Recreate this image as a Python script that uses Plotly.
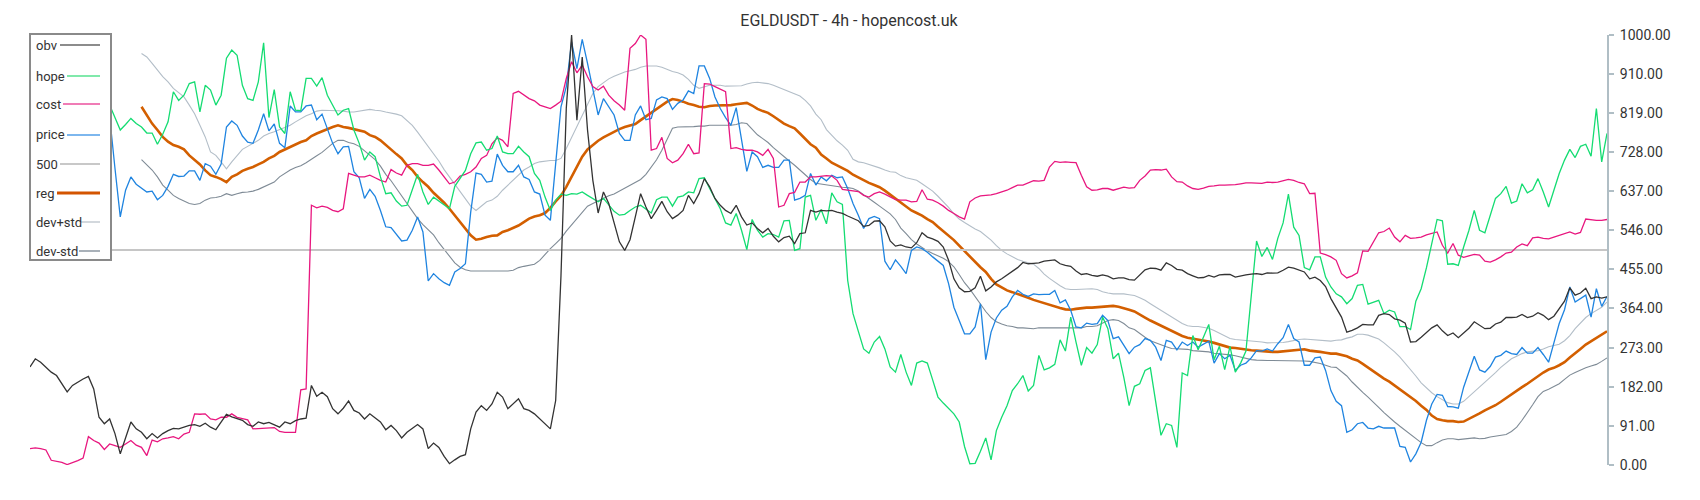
import plotly.graph_objects as go

N = 298
idx = list(range(N))

obv = [228, 247, 239, 228, 216, 208, 189, 170, 185, 193, 200, 206, 177, 111, 96, 107, 73, 26, 61, 100,
       84, 76, 61, 73, 63, 73, 80, 85, 84, 88, 92, 94, 90, 97, 88, 82, 100, 118, 112, 108,
       104, 94, 90, 100, 96, 99, 93, 88, 100, 96,
       103, 107, 109, 185, 160, 169, 159, 131, 119, 132, 149, 127, 121, 107, 119, 110, 100, 82, 92, 80,
       63, 76, 86, 94, 84, 38, 51, 41, 20, 3, 12, 20, 24, 84, 123, 138, 127, 142, 169, 158,
       131, 142, 154, 131, 127, 119, 107, 94, 84,
       150, 440, 830, 1000, 802, 949, 779, 662, 586, 635, 608, 565, 519, 499, 524, 577, 631, 600, 573, 592,
       613, 589, 573, 581, 592, 627, 608, 631, 666, 647, 620, 604, 592, 585, 604, 577, 558, 563, 550, 540,
       550, 532, 519, 529, 532, 515, 538, 540, 592,
       588, 592, 591, 592, 588, 585, 579, 573, 568, 555, 557, 567, 568, 554, 521, 509, 512, 507, 505, 517,
       540, 530, 526, 520, 507, 476, 433, 412, 403, 404, 412, 439, 405, 414, 426, 433, 441, 449, 459, 471,
       468, 469, 470, 474, 476, 477, 468, 464, 462,
       451, 443, 445, 441, 439, 442, 439, 433, 435, 435, 431, 430, 441, 454, 458, 457, 453, 470, 464, 455,
       453, 445, 440, 435, 436, 441, 437, 442, 443, 443, 437, 440, 442, 444, 445, 443, 447, 446, 447, 453,
       460, 458, 454, 449, 433, 437, 429, 415, 387,
       367, 344, 309, 313, 319, 327, 326, 326, 348, 352, 350, 340, 337, 330, 286, 287, 297, 309, 319, 326,
       312, 301, 307, 296, 307, 318, 333, 326, 317, 318, 328, 332, 343, 343, 344, 350, 343, 346, 354, 348,
       338, 346, 363, 381, 412, 395, 400, 411, 387, 391, 388, 391]

hope = [840, 830, 820, 800, 790, 800, 810, 805, 800, 790, 795, 780, 800, 820, 840,
        837, 806, 779, 792, 806, 794, 786, 772, 772, 746, 769, 798, 868, 848, 860, 887, 891, 821, 883, 872,
        837, 860, 946, 965, 953, 883, 852, 848, 891, 982, 808, 873, 786, 771, 868,
        825, 824, 899, 899, 881, 901, 860, 837, 814, 825, 829, 779, 748, 709, 728, 717, 670, 631, 633, 614,
        602, 604, 639, 676, 635, 606, 623, 614, 604, 596, 648, 666, 685, 724, 749, 751, 732, 736, 765, 728,
        724, 724, 741, 728, 717, 678, 662, 623, 592,
        616, 630, 627, 631, 630, 635, 627, 620, 612, 620, 604, 590, 581, 583, 592, 600, 604, 596, 586, 617,
        623, 623, 602, 623, 626, 635, 633, 666, 668, 643, 620, 596, 563, 558, 585, 546, 501, 571, 546, 530,
        538, 536, 530, 568, 569, 499, 503, 623, 627,
        569, 594, 561, 633, 612, 606, 429, 352, 313, 270, 260, 286, 299, 270, 228, 216, 257, 216, 185, 237,
        242, 237, 198, 158, 144, 131, 119, 100, 43, 3, 4, 32, 63, 12, 80, 111, 138, 173, 189, 208,
        172, 185, 255, 221, 226, 234, 291, 265, 344,
        286, 232, 273, 260, 280, 344, 317, 247, 260, 204, 138, 183, 189, 220, 226, 142, 69, 96, 92, 41,
        214, 208, 301, 268, 298, 327, 245, 276, 222, 276, 216, 237, 265, 391, 521, 485, 506, 478, 527, 563,
        630, 553, 534, 459, 454, 484, 484, 437, 414,
        398, 391, 375, 387, 418, 420, 374, 379, 383, 352, 360, 356, 322, 322, 315, 381, 410, 459, 515, 571,
        568, 467, 468, 464, 507, 546, 592, 546, 540, 581, 620, 631, 648, 609, 614, 654, 633, 640, 666, 635,
        600, 639, 678, 709, 734, 715, 741, 746, 718, 829, 705, 771]

cost = [38, 40, 38, 35, 11, 8, 6, 1, 5, 10, 16, 66, 57, 51, 36, 49, 45, 41, 49, 57,
        46, 41, 22, 58, 54, 61, 63, 66, 61, 72, 76, 119, 118, 119, 107, 105, 111, 111, 119, 111,
        108, 105, 84, 85, 86, 86, 87, 78, 76, 76,
        76, 175, 177, 604, 598, 602, 599, 592, 589, 596, 678, 674, 670, 670, 674, 668, 662, 658, 687, 679,
        674, 697, 701, 701, 697, 697, 700, 686, 670, 654, 658, 672, 676, 682, 693, 713, 720, 747, 761, 755,
        740, 864, 869, 860, 852, 847, 837, 833, 829,
        837, 846, 899, 938, 912, 930, 903, 880, 872, 881, 860, 847, 837, 825, 969, 980, 1000, 990, 732, 736,
        762, 713, 703, 709, 724, 746, 724, 726, 887, 886, 880, 873, 868, 736, 738, 734, 732, 732, 728, 720,
        734, 713, 600, 604, 631, 634, 658, 658, 670,
        670, 672, 673, 672, 662, 641, 639, 637, 636, 627, 623, 631, 635, 630, 623, 617, 616, 616, 612, 613,
        640, 618, 616, 610, 602, 592, 585, 577, 572, 612, 621, 626, 627, 628, 631, 635, 639, 645, 651, 651,
        656, 661, 660, 662, 693, 706, 704, 705, 704,
        703, 674, 647, 639, 640, 643, 643, 639, 642, 646, 644, 645, 662, 672, 686, 687, 686, 688, 670, 659,
        658, 649, 643, 641, 644, 648, 649, 651, 651, 651, 652, 654, 656, 656, 656, 655, 658, 657, 658, 661,
        664, 662, 657, 654, 631, 632, 493, 489, 484,
        476, 445, 435, 440, 447, 498, 497, 518, 540, 543, 551, 530, 519, 534, 527, 528, 530, 535, 539, 542,
        511, 493, 515, 488, 483, 487, 490, 488, 474, 472, 477, 484, 493, 495, 507, 514, 510, 528, 530, 527,
        526, 530, 534, 539, 542, 537, 541, 572, 570, 569, 569, 571]

price = [840, 820, 800, 790, 780, 770, 775, 760, 770, 780, 790, 800, 790, 805, 810,
         810, 690, 577, 639, 670, 653, 643, 635, 637, 617, 627, 648, 676, 671, 672, 684, 684, 662, 701, 695,
         676, 700, 786, 800, 790, 765, 751, 748, 779, 817, 777, 793, 748, 738, 835,
         821, 821, 835, 837, 803, 816, 780, 748, 724, 740, 741, 682, 668, 620, 641, 625, 592, 554, 552, 537,
         521, 523, 546, 577, 542, 428, 445, 433, 424, 418, 449, 457, 468, 588, 679, 676, 658, 660, 723, 697,
         682, 682, 697, 670, 664, 635, 630, 581, 569,
         701, 833, 880, 984, 922, 990, 934, 872, 814, 852, 833, 814, 771, 755, 755, 814, 835, 803, 806, 849,
         856, 852, 827, 841, 849, 870, 864, 928, 928, 899, 856, 829, 808, 790, 831, 759, 683, 728, 717, 692,
         697, 692, 692, 709, 709, 616, 620, 627, 678,
         651, 670, 661, 674, 668, 670, 643, 608, 581, 550, 573, 578, 573, 474, 454, 477, 462, 445, 499, 507,
         503, 495, 484, 474, 464, 422, 367, 336, 305, 305, 321, 375, 245, 309, 342, 360, 369, 391, 406, 397,
         392, 398, 396, 397, 397, 406, 377, 384, 360,
         321, 319, 330, 327, 329, 348, 336, 294, 298, 278, 259, 274, 280, 294, 290, 274, 243, 290, 286, 268,
         286, 278, 286, 274, 282, 288, 237, 259, 247, 255, 220, 232, 237, 249, 266, 265, 270, 265, 282, 296,
         327, 294, 286, 232, 232, 249, 251, 220, 173,
         148, 138, 76, 82, 96, 99, 86, 84, 90, 86, 86, 86, 43, 41, 7, 26, 53, 104, 142, 164,
         162, 136, 135, 132, 181, 216, 253, 221, 216, 229, 251, 255, 265, 259, 257, 273, 260, 260, 273, 257,
         239, 284, 329, 361, 414, 379, 387, 395, 344, 410, 369, 392]

level_500 = [500] * N

reg = [None] * 21 + [
    833, 814, 794, 779, 763, 752, 744, 740, 734, 720, 709, 699, 685, 674, 670, 665, 658, 670, 676, 684,
    689, 693, 699, 705, 713, 719, 728, 734, 740,
    745, 751, 755, 765, 771, 776, 782, 786, 790, 786, 784, 781, 779, 775, 767, 763, 755, 744, 732, 723,
    713, 697, 686, 670, 658, 647, 633, 622, 610, 596, 581, 565, 550, 534, 524, 526, 530, 533, 534, 542,
    546, 552, 557, 565, 573, 578, 581, 586, 598,
    613, 626, 647, 670, 695, 717, 734, 745, 754, 762, 769, 776, 781, 786, 790, 793, 802, 811, 820, 829,
    838, 845, 851, 849, 845, 840, 837, 833, 832, 835, 836, 836, 836, 837, 839, 841, 842, 836, 828, 823,
    819, 811, 802, 794, 788, 783, 771, 759, 746,
    738, 722, 713, 703, 697, 691, 684, 675, 668, 662, 656, 651, 646, 638, 629, 620, 611, 601, 592, 586,
    580, 572, 565, 554, 544, 535, 523, 510, 497, 485, 472, 460, 449, 433, 420, 412, 406, 402, 398, 393,
    389, 384, 380, 376, 372, 368, 365, 362, 361,
    363, 365, 366, 366, 367, 367, 369, 370, 368, 365, 361, 357, 349, 343, 336, 330, 324, 318, 312, 305,
    300, 296, 294, 292, 290, 287, 284, 280, 277, 273, 272, 270, 268, 267, 266, 265, 263, 263, 263, 264,
    265, 266, 268, 269, 266, 265, 263, 261, 259,
    259, 256, 253, 247, 243, 235, 226, 218, 210, 201, 194, 185, 177, 169, 159, 149, 138, 128, 115, 107,
    104, 102, 102, 100, 101, 107, 114, 120, 127, 133, 139, 147, 156, 163, 172, 181, 189, 198, 206, 215,
    222, 226, 232, 239, 250, 259, 270, 280, 288, 296, 304, 311]

dev_plus = [None] * 21 + [
    957, 949, 934, 918, 903, 891, 876, 866, 856, 837, 817, 790, 763, 728, 720, 705, 689, 705, 720, 734,
    741, 748, 755, 765, 771, 775, 780, 786, 790,
    798, 806, 812, 817, 823, 825, 825, 825, 824, 823, 821, 821, 823, 825, 827, 825, 824, 821, 819, 816,
    812, 800, 790, 774, 757, 740, 723, 707, 687, 670, 652, 634, 617, 602, 592, 602, 612, 616, 625, 639,
    651, 662, 674, 686, 693, 701, 705, 707, 708,
    708, 713, 736, 762, 786, 811, 837, 864, 880, 889, 898, 904, 909, 914, 917, 920, 925, 928, 928, 928,
    925, 920, 915, 912, 907, 897, 883, 876, 880, 883, 883, 883, 881, 881, 881, 882, 886, 889, 890, 889,
    887, 883, 878, 873, 869, 864, 858, 848, 835,
    816, 803, 780, 766, 754, 744, 732, 711, 705, 703, 699, 696, 691, 686, 682, 681, 673, 668, 665, 662,
    654, 645, 637, 625, 613, 599, 584, 572, 564, 556, 549, 543, 533, 523, 510, 499, 491, 485, 478, 474,
    471, 467, 457, 444, 434, 425, 417, 410, 408,
    408, 409, 410, 410, 408, 403, 400, 398, 398, 398, 396, 394, 389, 383, 375, 367, 360, 353, 343, 335,
    329, 324, 322, 322, 320, 318, 313, 306, 299, 294, 292, 291, 290, 288, 287, 286, 284, 284, 284, 285,
    287, 290, 292, 293, 292, 291, 290, 289, 288,
    290, 291, 295, 298, 304, 304, 302, 298, 293, 284, 274, 263, 251, 237, 221, 207, 191, 179, 168, 159,
    151, 145, 142, 142, 148, 159, 170, 180, 191, 203, 215, 227, 238, 247, 253, 259, 263, 265, 266, 270,
    275, 278, 281, 289, 301, 317, 331, 343, 352, 360, 367, 379]

dev_minus = [None] * 21 + [
    710, 697, 686, 670, 651, 639, 627, 620, 614, 608, 606, 608, 616, 621, 622, 625, 631, 627, 631, 634,
    635, 637, 641, 647, 653, 658, 670, 679, 686,
    692, 696, 703, 710, 719, 727, 738, 748, 755, 755, 750, 747, 741, 731, 721, 710, 695, 676, 661, 643,
    626, 610, 589, 573, 559, 546, 535, 517, 501, 485, 470, 460, 454, 451, 451, 451, 451, 451, 451, 450,
    451, 453, 459, 462, 464, 467, 476, 490, 503,
    515, 527, 544, 559, 573, 589, 602, 608, 614, 620, 626, 630, 637, 643, 650, 657, 664, 676, 692, 710,
    732, 758, 783, 786, 786, 786, 787, 788, 788, 790, 790, 789, 789, 790, 792, 796, 794, 780, 768, 759,
    750, 738, 727, 717, 707, 697, 686, 674, 664,
    655, 653, 651, 649, 647, 646, 645, 643, 637, 629, 620, 611, 602, 594, 584, 571, 551, 538, 524, 514,
    505, 498, 492, 486, 481, 473, 461, 443, 424, 409, 391, 374, 357, 343, 333, 328, 324, 322, 319, 319,
    318, 317, 319, 319, 319, 319, 319, 319, 319,
    319, 319, 322, 322, 324, 331, 336, 338, 336, 329, 319, 315, 305, 297, 289, 284, 279, 275, 271, 270,
    270, 269, 266, 265, 263, 263, 260, 259, 258, 256, 254, 251, 248, 245, 244, 243, 243, 243, 243, 243,
    243, 243, 243, 242, 241, 239, 236, 232, 228,
    227, 218, 207, 193, 180, 169, 158, 147, 134, 122, 110, 100, 90, 80, 70, 61, 52, 45, 45, 52,
    58, 61, 61, 59, 60, 62, 63, 61, 62, 65, 67, 69, 71, 78, 88, 104, 121, 140, 159, 171,
    176, 183, 189, 199, 209, 215, 221, 226, 230, 234, 241, 249]

tick_vals = [0, 91, 182, 273, 364, 455, 546, 637, 728, 819, 910, 1000]
tick_text = [f"{v:.2f}" for v in tick_vals]

# ---------------- layout geometry ----------------
# the page body has an 8px margin, so the figure is placed at (8, 8) in the window
OFF = 8
W, H = 1700 - 2 * OFF, 500 - 2 * OFF
ML, MT = 30 - OFF, 35 - OFF
MR = W - (1607 - OFF)
MB = H - MT - 430
PW = W - ML - MR
PH = H - MT - MB


def fx(px):
    """window pixel x -> paper fraction"""
    return (px - OFF - ML) / PW


def fy(py):
    """window pixel y -> paper fraction"""
    return (MT + PH - (py - OFF)) / PH


FONT = "Roboto, 'Noto Sans', Arial, sans-serif"

fig = go.Figure()

# drawing order (last on top)
styles = [
    ("dev-std", dev_minus, "#7f8b96", 1.1),
    ("dev+std", dev_plus, "#b3bec8", 1.1),
    ("reg", reg, "#d35f00", 2.6),
    ("500", level_500, "#c6c6c6", 2.0),
    ("price", price, "#1f84e0", 1.3),
    ("cost", cost, "#e8177f", 1.3),
    ("hope", hope, "#14dc72", 1.3),
    ("obv", obv, "#333333", 1.3),
]
for name, ys, color, width in styles:
    fig.add_trace(go.Scatter(
        x=idx, y=ys, mode="lines", name=name,
        line=dict(color=color, width=width),
        connectgaps=False, hoverinfo="skip", showlegend=False,
    ))

# ---------------- custom legend box ----------------
legend_rows = [
    ("obv", 45, 60, "#8c8c8c", 2),
    ("hope", 76, 67, "#80e9ab", 2),
    ("cost", 104, 63, "#f07cb6", 2),
    ("price", 135, 67, "#7db7ee", 2),
    ("500", 164, 60, "#c8c8c8", 2),
    ("reg", 193, 57, "#d35400", 3),
    ("dev+std", 222, 81, "#d3d8dd", 2),
    ("dev-std", 251, 79, "#a9b1b9", 2),
]
shapes = [dict(type="rect", xref="paper", yref="paper",
               x0=fx(30), x1=fx(111), y0=fy(260), y1=fy(34),
               line=dict(color="#8a8a8a", width=2), fillcolor="white", layer="above")]
annotations = []
for label, yc, xs, col, lw in legend_rows:
    shapes.append(dict(type="line", xref="paper", yref="paper",
                       x0=fx(xs), x1=fx(100), y0=fy(yc), y1=fy(yc),
                       line=dict(color=col, width=lw), layer="above"))
    annotations.append(dict(text=label, xref="paper", yref="paper",
                            x=fx(34), y=fy(yc), xanchor="left", yanchor="middle",
                            showarrow=False, font=dict(family=FONT, size=13, color="#333333")))

fig.update_layout(
    width=W, height=H,
    margin=dict(l=ML, r=MR, t=MT, b=MB, pad=0),
    paper_bgcolor="white", plot_bgcolor="white",
    title=dict(text="EGLDUSDT - 4h - hopencost.uk", x=(849 - OFF) / W, xref="container",
               xanchor="center", y=1 - (20 - OFF) / H, yref="container", yanchor="middle",
               font=dict(family=FONT, size=16, color="#333333")),
    xaxis=dict(visible=False, range=[0, N - 1], fixedrange=True),
    yaxis=dict(range=[0, 1000], side="right", tickvals=tick_vals, ticktext=tick_text,
               ticks="outside", ticklen=5, tickwidth=1.5, tickcolor="#b0bec5",
               showline=True, linecolor="#b0bec5", linewidth=2, showgrid=False, zeroline=False,
               ticklabelstandoff=3,
               tickfont=dict(family=FONT, size=14, color="#333333"), automargin=False),
    shapes=shapes, annotations=annotations, showlegend=False,
)

fig.write_html("out.html")
